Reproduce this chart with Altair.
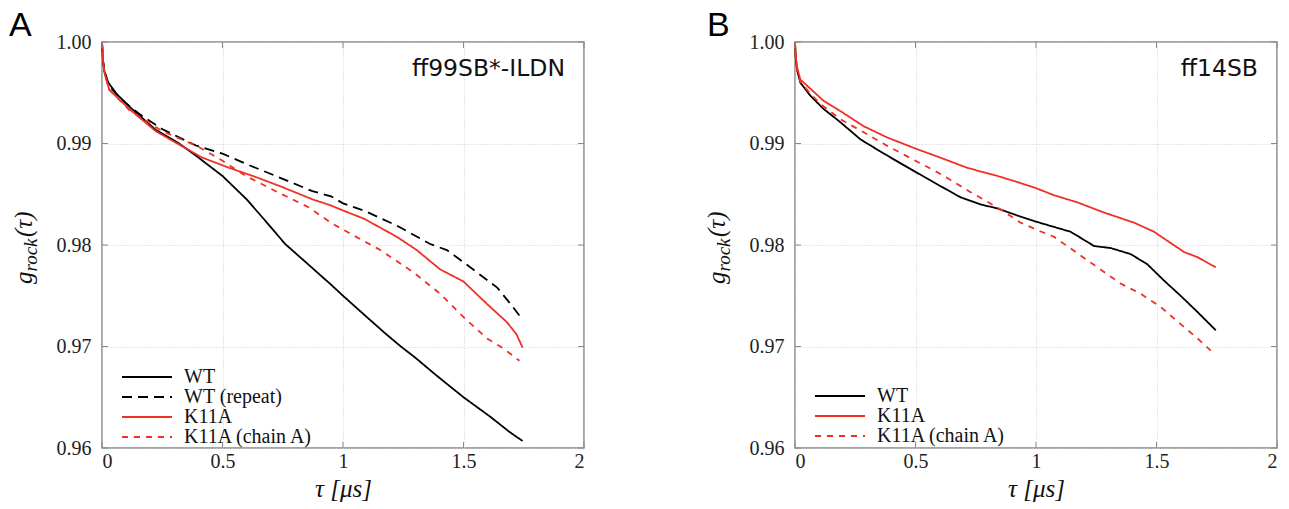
import altair as alt
import pandas as pd

# ---------------- data ----------------
series_A = ["WT", "WT (repeat)", "K11A", "K11A (chain A)"]
colors_A = ["#000000", "#000000", "#ee3124", "#ee3124"]
dashes_A = [[1, 0], [10, 6], [1, 0], [6, 6]]

series_B = ["WT", "K11A", "K11A (chain A)"]
colors_B = ["#000000", "#ee3124", "#ee3124"]
dashes_B = [[1, 0], [1, 0], [6, 6]]

# Panel A (ff99SB*-ILDN)
A_wt_t = [0, 0.004, 0.01, 0.02, 0.06, 0.12, 0.22, 0.32, 0.39, 0.5, 0.6, 0.67, 0.76, 0.86, 0.95, 1.0,
          1.08, 1.17, 1.24, 1.3, 1.38, 1.5, 1.61, 1.69, 1.72, 1.745]
A_wt_g = [1.0, 0.9982, 0.9971, 0.9962, 0.9949, 0.9935, 0.9914, 0.9900, 0.9888, 0.9868, 0.9845, 0.9826,
          0.9801, 0.9780, 0.9761, 0.9750, 0.9733, 0.9714, 0.9700, 0.9689, 0.9673, 0.9650, 0.9631, 0.9616,
          0.9611, 0.9607]

A_rep_t = [0, 0.004, 0.01, 0.03, 0.072, 0.155, 0.251, 0.39, 0.5, 0.597, 0.721, 0.873, 0.95, 1.0,
           1.086, 1.224, 1.362, 1.431, 1.5, 1.584, 1.64, 1.695, 1.743]
A_rep_g = [1.0, 0.9982, 0.9972, 0.9957, 0.9945, 0.9929, 0.9914, 0.9898, 0.9890, 0.9880, 0.9868, 0.9853,
           0.9848, 0.9841, 0.9834, 0.9819, 0.9801, 0.9795, 0.9783, 0.9768, 0.9758, 0.9742, 0.9727]

A_k11_t = [0, 0.004, 0.01, 0.03, 0.113, 0.224, 0.32, 0.417, 0.528, 0.638, 0.749, 0.873, 0.949, 1.0,
           1.086, 1.224, 1.306, 1.403, 1.5, 1.597, 1.68, 1.72, 1.745]
A_k11_g = [1.0, 0.9982, 0.9970, 0.9953, 0.9934, 0.9912, 0.9899, 0.9886, 0.9876, 0.9867, 0.9857, 0.9845,
           0.9839, 0.9834, 0.9826, 0.9808, 0.9795, 0.9776, 0.9764, 0.9742, 0.9724, 0.9712, 0.9699]

A_k11a_t = [0, 0.004, 0.01, 0.03, 0.113, 0.251, 0.39, 0.5, 0.597, 0.721, 0.859, 0.949, 1.032, 1.155,
            1.293, 1.403, 1.5, 1.597, 1.666, 1.732]
A_k11a_g = [1.0, 0.9982, 0.9970, 0.9953, 0.9933, 0.9912, 0.9898, 0.9883, 0.9868, 0.9853, 0.9837, 0.9822,
            0.9811, 0.9795, 0.9773, 0.9752, 0.9729, 0.9708, 0.9698, 0.9686]

# Panel B (ff14SB)
B_wt_t = [0, 0.003, 0.008, 0.022, 0.064, 0.119, 0.188, 0.272, 0.369, 0.5, 0.604, 0.687, 0.77, 0.84,
          0.923, 1.0, 1.144, 1.241, 1.31, 1.393, 1.462, 1.531, 1.6, 1.67, 1.746]
B_wt_g = [1.0, 0.9985, 0.9973, 0.9960, 0.9947, 0.9934, 0.9921, 0.9904, 0.9890, 0.9872, 0.9858, 0.9847,
          0.9840, 0.9836, 0.9829, 0.9823, 0.9813, 0.9799, 0.9797, 0.9791, 0.9781, 0.9765, 0.9750, 0.9734, 0.9716]

B_k11_t = [0, 0.003, 0.008, 0.022, 0.064, 0.119, 0.188, 0.285, 0.382, 0.5, 0.604, 0.715, 0.84, 0.923,
           1.0, 1.075, 1.172, 1.282, 1.407, 1.49, 1.546, 1.615, 1.67, 1.746]
B_k11_g = [1.0, 0.9986, 0.9976, 0.9963, 0.9954, 0.9942, 0.9932, 0.9917, 0.9906, 0.9895, 0.9886, 0.9876,
           0.9868, 0.9862, 0.9856, 0.9849, 0.9842, 0.9832, 0.9822, 0.9813, 0.9804, 0.9793, 0.9788, 0.9778]

B_k11a_t = [0, 0.003, 0.008, 0.022, 0.064, 0.105, 0.188, 0.285, 0.396, 0.5, 0.604, 0.729, 0.84, 0.936,
            1.013, 1.075, 1.213, 1.351, 1.434, 1.517, 1.6, 1.67, 1.725]
B_k11a_g = [1.0, 0.9985, 0.9973, 0.9961, 0.9949, 0.9939, 0.9924, 0.9911, 0.9896, 0.9883, 0.9870, 0.9852,
            0.9837, 0.9822, 0.9814, 0.9808, 0.9785, 0.9762, 0.9752, 0.9739, 0.9722, 0.9708, 0.9696]

x_ticks = [0, 0.5, 1, 1.5, 2]
y_ticks = [0.96, 0.97, 0.98, 0.99, 1.00]

W, H = 482, 406
SERIF = "Liberation Serif"
FRAME = "#888888"


def long_df(pairs):
    rows = []
    for name, ts, gs in pairs:
        for t, g in zip(ts, gs):
            rows.append({"series": name, "t": t, "g": g})
    return pd.DataFrame(rows)


def one(text):
    return pd.DataFrame({"label": [text]})


def panel(df, names, colors, dashes, letter, letter_x, model, legend_y):
    xs = alt.Scale(domain=[0, 2], nice=False)
    ys = alt.Scale(domain=[0.96, 1.0], nice=False, zero=False)
    leg = alt.Legend(
        orient="none", legendX=35, legendY=legend_y, title=None,
        symbolType="M-5,0H5", symbolSize=100, symbolStrokeWidth=2,
        labelFont=SERIF, labelFontSize=20, labelColor="#111111",
        labelOffset=27, rowPadding=-3, padding=0,
    )
    lines = alt.Chart(df).mark_line(strokeWidth=1.8).encode(
        x=alt.X("t:Q", scale=xs, axis=alt.Axis(
            values=x_ticks, format="~g", title="τ [μs]", titleFont=SERIF,
            titleFontStyle="italic", titleFontWeight="normal", titleFontSize=25,
            titlePadding=5, titleColor="#111111", labelPadding=3,
            labelFont=SERIF, labelFontSize=20, labelColor="#222222")),
        y=alt.Y("g:Q", scale=ys, title=None, axis=alt.Axis(
            values=y_ticks, format=".2f", labelPadding=11,
            labelFont=SERIF, labelFontSize=20, labelColor="#222222")),
        color=alt.Color("series:N", scale=alt.Scale(domain=names, range=colors), legend=leg),
        strokeDash=alt.StrokeDash("series:N", scale=alt.Scale(domain=names, range=dashes), legend=leg),
    )
    ydf = pd.DataFrame({"v": y_ticks})
    xdf = pd.DataFrame({"v": x_ticks})
    tl = alt.Chart(ydf).mark_rule(color=FRAME, strokeWidth=1).encode(
        y=alt.Y("v:Q", scale=ys), x=alt.value(0), x2=alt.value(6))
    tr = alt.Chart(ydf).mark_rule(color=FRAME, strokeWidth=1).encode(
        y=alt.Y("v:Q", scale=ys), x=alt.value(W - 6), x2=alt.value(W))
    tb = alt.Chart(xdf).mark_rule(color=FRAME, strokeWidth=1).encode(
        x=alt.X("v:Q", scale=xs), y=alt.value(H - 6), y2=alt.value(H))
    tt = alt.Chart(xdf).mark_rule(color=FRAME, strokeWidth=1).encode(
        x=alt.X("v:Q", scale=xs), y=alt.value(0), y2=alt.value(6))

    lab = alt.Chart(one(letter)).mark_text(
        align="left", baseline="alphabetic", font="Liberation Sans", fontSize=34, color="#000000"
    ).encode(text="label:N", x=alt.value(letter_x), y=alt.value(-6))
    mod = alt.Chart(one(model)).mark_text(
        align="right", baseline="alphabetic", font="DejaVu Sans", fontSize=23.5, color="#111111"
    ).encode(text="label:N", x=alt.value(W - 19), y=alt.value(34))

    yt_g = alt.Chart(one("g")).mark_text(
        angle=270, align="left", baseline="alphabetic", font=SERIF, fontStyle="italic",
        fontSize=25, color="#111111"
    ).encode(text="label:N", x=alt.value(-70), y=alt.value(242))
    yt_r = alt.Chart(one("rock")).mark_text(
        angle=270, align="left", baseline="alphabetic", font=SERIF, fontStyle="italic",
        fontSize=19, color="#111111"
    ).encode(text="label:N", x=alt.value(-65), y=alt.value(229.5))
    yt_t = alt.Chart(one("(τ)")).mark_text(
        angle=270, align="left", baseline="alphabetic", font=SERIF, fontStyle="italic",
        fontSize=25, color="#111111"
    ).encode(text="label:N", x=alt.value(-70), y=alt.value(195))

    return alt.layer(lines, tl, tr, tb, tt, lab, mod, yt_g, yt_r, yt_t).properties(width=W, height=H)


dfA = long_df([
    ("WT", A_wt_t, A_wt_g),
    ("WT (repeat)", A_rep_t, A_rep_g),
    ("K11A", A_k11_t, A_k11_g),
    ("K11A (chain A)", A_k11a_t, A_k11a_g),
])
dfB = long_df([
    ("WT", B_wt_t, B_wt_g),
    ("K11A", B_k11_t, B_k11_g),
    ("K11A (chain A)", B_k11a_t, B_k11a_g),
])

pA = panel(dfA, series_A, colors_A, dashes_A, "A", -93, "ff99SB*-ILDN", 325)
pB = panel(dfB, series_B, colors_B, dashes_B, "B", -88, "ff14SB", 344)

chart = alt.hconcat(pA, pB, spacing=118).resolve_scale(
    color="independent", strokeDash="independent", x="independent", y="independent"
).resolve_legend(color="independent", strokeDash="independent").properties(
    padding={"left": 0, "top": 0, "right": 0, "bottom": 0}
).configure_view(
    stroke=FRAME, strokeWidth=1.5
).configure_axis(
    grid=True, gridColor="#cfcfcf", gridDash=[1, 2], gridWidth=1,
    domain=False, ticks=False,
    labelFont=SERIF, labelFontSize=20, labelColor="#222222",
)

chart.save("out.html", embed_options={"renderer": "svg", "actions": False})
